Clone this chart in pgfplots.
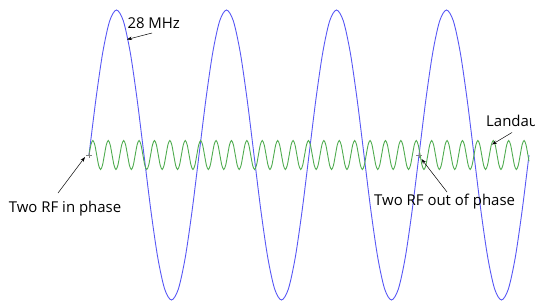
\documentclass[border=0pt]{standalone}
\usepackage{pgfplots}
\pgfplotsset{compat=1.18}
\usepackage{fontspec}
\setmainfont{Open Sans}
\usetikzlibrary{arrows.meta}
\definecolor{rfblue}{RGB}{88,88,245}
\definecolor{landgreen}{RGB}{80,172,80}
\begin{document}
\begin{tikzpicture}[x=1bp,y=1bp]
\useasboundingbox (0,0) rectangle (535,302);
\clip (0,0) rectangle (535,302);
\begin{axis}[
  at={(89bp,2bp)}, anchor=south west,
  scale only axis, width=440bp, height=290bp,
  xmin=0, xmax=200, ymin=-1, ymax=1,
  hide axis, clip=false,
]
\addplot[rfblue, line width=0.9bp, smooth] coordinates {
(0,0) (3.125,0.3827) (6.25,0.7071) (9.375,0.9239) (12.5,1) (15.625,0.9239) (18.75,0.7071) (21.875,0.3827) (25,0) (28.125,-0.3827) (31.25,-0.7071) (34.375,-0.9239) (37.5,-1) (40.625,-0.9239) (43.75,-0.7071) (46.875,-0.3827)
(50,0) (53.125,0.3827) (56.25,0.7071) (59.375,0.9239) (62.5,1) (65.625,0.9239) (68.75,0.7071) (71.875,0.3827) (75,0) (78.125,-0.3827) (81.25,-0.7071) (84.375,-0.9239) (87.5,-1) (90.625,-0.9239) (93.75,-0.7071) (96.875,-0.3827)
(100,0) (103.125,0.3827) (106.25,0.7071) (109.375,0.9239) (112.5,1) (115.625,0.9239) (118.75,0.7071) (121.875,0.3827) (125,0) (128.125,-0.3827) (131.25,-0.7071) (134.375,-0.9239) (137.5,-1) (140.625,-0.9239) (143.75,-0.7071) (146.875,-0.3827)
(150,0) (153.125,0.3827) (156.25,0.7071) (159.375,0.9239) (162.5,1) (165.625,0.9239) (168.75,0.7071) (171.875,0.3827) (175,0) (178.125,-0.3827) (181.25,-0.7071) (184.375,-0.9239) (187.5,-1) (190.625,-0.9239) (193.75,-0.7071) (196.875,-0.3827)
(200,0)
};
\addplot[landgreen, line width=0.9bp, smooth] coordinates {
(0,0) (0.875,0.0707) (1.75,0.1) (2.625,0.0707) (3.5,0) (4.375,-0.0707) (5.25,-0.1) (6.125,-0.0707)
(7,0) (7.875,0.0707) (8.75,0.1) (9.625,0.0707) (10.5,0) (11.375,-0.0707) (12.25,-0.1) (13.125,-0.0707)
(14,0) (14.875,0.0707) (15.75,0.1) (16.625,0.0707) (17.5,0) (18.375,-0.0707) (19.25,-0.1) (20.125,-0.0707)
(21,0) (21.875,0.0707) (22.75,0.1) (23.625,0.0707) (24.5,0) (25.375,-0.0707) (26.25,-0.1) (27.125,-0.0707)
(28,0) (28.875,0.0707) (29.75,0.1) (30.625,0.0707) (31.5,0) (32.375,-0.0707) (33.25,-0.1) (34.125,-0.0707)
(35,0) (35.875,0.0707) (36.75,0.1) (37.625,0.0707) (38.5,0) (39.375,-0.0707) (40.25,-0.1) (41.125,-0.0707)
(42,0) (42.875,0.0707) (43.75,0.1) (44.625,0.0707) (45.5,0) (46.375,-0.0707) (47.25,-0.1) (48.125,-0.0707)
(49,0) (49.875,0.0707) (50.75,0.1) (51.625,0.0707) (52.5,0) (53.375,-0.0707) (54.25,-0.1) (55.125,-0.0707)
(56,0) (56.875,0.0707) (57.75,0.1) (58.625,0.0707) (59.5,0) (60.375,-0.0707) (61.25,-0.1) (62.125,-0.0707)
(63,0) (63.875,0.0707) (64.75,0.1) (65.625,0.0707) (66.5,0) (67.375,-0.0707) (68.25,-0.1) (69.125,-0.0707)
(70,0) (70.875,0.0707) (71.75,0.1) (72.625,0.0707) (73.5,0) (74.375,-0.0707) (75.25,-0.1) (76.125,-0.0707)
(77,0) (77.875,0.0707) (78.75,0.1) (79.625,0.0707) (80.5,0) (81.375,-0.0707) (82.25,-0.1) (83.125,-0.0707)
(84,0) (84.875,0.0707) (85.75,0.1) (86.625,0.0707) (87.5,0) (88.375,-0.0707) (89.25,-0.1) (90.125,-0.0707)
(91,0) (91.875,0.0707) (92.75,0.1) (93.625,0.0707) (94.5,0) (95.375,-0.0707) (96.25,-0.1) (97.125,-0.0707)
(98,0) (98.875,0.0707) (99.75,0.1) (100.625,0.0707) (101.5,0) (102.375,-0.0707) (103.25,-0.1) (104.125,-0.0707)
(105,0) (105.875,0.0707) (106.75,0.1) (107.625,0.0707) (108.5,0) (109.375,-0.0707) (110.25,-0.1) (111.125,-0.0707)
(112,0) (112.875,0.0707) (113.75,0.1) (114.625,0.0707) (115.5,0) (116.375,-0.0707) (117.25,-0.1) (118.125,-0.0707)
(119,0) (119.875,0.0707) (120.75,0.1) (121.625,0.0707) (122.5,0) (123.375,-0.0707) (124.25,-0.1) (125.125,-0.0707)
(126,0) (126.875,0.0707) (127.75,0.1) (128.625,0.0707) (129.5,0) (130.375,-0.0707) (131.25,-0.1) (132.125,-0.0707)
(133,0) (133.875,0.0707) (134.75,0.1) (135.625,0.0707) (136.5,0) (137.375,-0.0707) (138.25,-0.1) (139.125,-0.0707)
(140,0) (140.875,0.0707) (141.75,0.1) (142.625,0.0707) (143.5,0) (144.375,-0.0707) (145.25,-0.1) (146.125,-0.0707)
(147,0) (147.875,0.0707) (148.75,0.1) (149.625,0.0707) (150.5,0) (151.375,-0.0707) (152.25,-0.1) (153.125,-0.0707)
(154,0) (154.875,0.0707) (155.75,0.1) (156.625,0.0707) (157.5,0) (158.375,-0.0707) (159.25,-0.1) (160.125,-0.0707)
(161,0) (161.875,0.0707) (162.75,0.1) (163.625,0.0707) (164.5,0) (165.375,-0.0707) (166.25,-0.1) (167.125,-0.0707)
(168,0) (168.875,0.0707) (169.75,0.1) (170.625,0.0707) (171.5,0) (172.375,-0.0707) (173.25,-0.1) (174.125,-0.0707)
(175,0) (175.875,0.0707) (176.75,0.1) (177.625,0.0707) (178.5,0) (179.375,-0.0707) (180.25,-0.1) (181.125,-0.0707)
(182,0) (182.875,0.0707) (183.75,0.1) (184.625,0.0707) (185.5,0) (186.375,-0.0707) (187.25,-0.1) (188.125,-0.0707)
(189,0) (189.875,0.0707) (190.75,0.1) (191.625,0.0707) (192.5,0) (193.375,-0.0707) (194.25,-0.1) (195.125,-0.0707)
(196,0) (196.875,0.0707) (197.75,0.1) (198.625,0.0707) (199.5,0) (200,-0.0434)
};
\addplot[only marks, mark=+, gray, mark size=3bp, line width=0.6bp] coordinates {(0,0) (150,0)};
\end{axis}
\begin{scope}[font=\fontsize{15}{18}\selectfont]
\node[anchor=base west, inner sep=0pt] at (127.3,273.3) {28 MHz};
\draw[-{Stealth[length=5bp,width=3.5bp]}, line width=0.5bp] (152,269) -- (127,262.5);
\node[anchor=base west, inner sep=0pt] at (8.7,89.3) {Two RF in phase};
\draw[-{Stealth[length=5bp,width=3.5bp]}, line width=0.5bp] (58,109) -- (85,145);
\node[anchor=base west, inner sep=0pt] at (374,96.3) {Two RF out of phase};
\draw[-{Stealth[length=5bp,width=3.5bp]}, line width=0.5bp] (447,110) -- (421.5,143);
\node[anchor=base west, inner sep=0pt] at (486,175.3) {Landau};
\draw[-{Stealth[length=5bp,width=3.5bp]}, line width=0.5bp] (512,169.5) -- (492,157.5);
\end{scope}
\end{tikzpicture}
\end{document}
